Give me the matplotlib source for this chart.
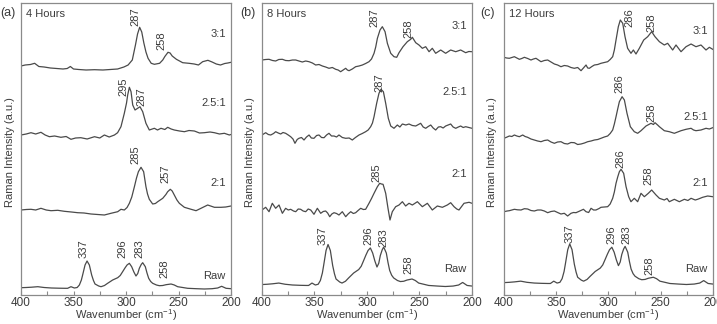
import matplotlib
matplotlib.use("Agg")
import matplotlib.pyplot as plt
from matplotlib.ticker import MultipleLocator

plt.rcParams['font.family'] = ['Liberation Sans', 'DejaVu Sans']
plt.rcParams['mathtext.default'] = 'regular'

# ---------------- data ----------------
# raw powder spectrum, same shape in all three panels
raw_wn = [400, 395, 390, 384, 378, 371, 364, 358, 355.6, 352.4, 349.2, 346.5, 344.4, 342.5, 341.3, 339,
          337.1, 334.9, 332.7, 331, 329.5, 326, 323.8, 320.5, 317.5, 312.7, 307.9, 305.5, 303.2, 301, 299,
          296.8, 294.6, 292.5, 290.5, 288.8, 287.3, 285.5, 284.1, 281.6, 280, 278.4, 276.5, 274.6, 271,
          268.2, 265, 261.9, 257.1, 254, 250.8, 246, 241.3, 233, 225.4, 218, 212.7, 208.9, 204.7, 200]
raw_int = [1.3, 1.5, 1.8, 2.3, 1.5, 1, 0.8, 0.7, 0.7, 2.3, 1, 1.5, 4, 9, 14, 24,
           28, 24, 14, 8.5, 5, 3, 2.3, 3.5, 5.7, 9, 11.3, 13.5, 17.3, 21, 24,
           25.7, 22.3, 17, 13, 15.5, 20.7, 24.5, 26.3, 22.3, 16, 10.7, 7.5, 5.7, 4,
           3.3, 3.5, 4.3, 5, 4, 2.3, 1.5, 0.7, 0.3, 0, 0.3, 1, 2.7, 0.7, 0.3]

# 4 hours
a31_wn = [400, 396, 391, 387, 383, 378, 372, 366, 360, 356, 353, 350, 345, 338, 330, 322, 315, 308, 302,
          298, 294, 291, 289, 287, 285, 283, 281, 279, 276, 273, 268, 265, 263, 260, 258, 256, 252, 246,
          240, 235, 231, 227, 222, 218, 214, 210, 206, 203, 200]
a31_int = [4, 5, 5.5, 6.7, 3.5, 3, 2, 1.5, 1, 1.5, 3.5, 1, 0.5, 0, 0.3, 0, 0.5, 1, 3,
           5, 10, 25, 36, 42.7, 38, 27, 18, 11.7, 6.7, 5.7, 6.7, 10, 13.5, 17.7, 17, 14, 10.7, 7.3,
           6.7, 6, 5, 8.3, 9.7, 8, 6, 5, 6.5, 7, 7.7]

a251_wn = [400, 395, 390.5, 386, 381, 377, 373, 368, 362, 357, 352.4, 348, 343, 337, 330, 325, 320.6, 316,
           311, 308, 304.8, 301.6, 299.5, 298.4, 296.8, 295.2, 293.6, 291.4, 288.9, 286.7, 284.1, 281,
           277.8, 273, 270, 266.7, 263, 260.3, 257, 254, 249, 244.4, 240, 234.9, 230, 225.4, 220, 215.8,
           211, 206.3, 201.6, 200]
a251_int = [5, 6, 7.3, 6, 7.7, 5, 3.3, 4, 2.7, 3.5, 0.7, 2, 2.3, 1, 3.3, 2, 5, 3,
            5, 7.3, 13.3, 26.7, 37, 45, 52.7, 48.3, 35, 30, 31.7, 33.3, 28.3, 16.7,
            10, 11.7, 10, 11.7, 10.5, 12.7, 11, 10, 9, 8.3, 9.5, 9, 7, 7.3, 8, 7.3,
            6, 6.7, 5, 5.5]

a21_wn = [400, 395, 390.5, 386, 381, 376, 371.4, 365, 358.7, 352, 346, 340, 333.3, 327, 320.6, 314.3,
          307.9, 304.8, 301.6, 299, 296.8, 294.5, 292, 290, 288.2, 285.7, 283.2, 281, 279.5, 277.8, 274.6,
          272, 269.8, 265, 262, 260.3, 257.8, 256, 254, 251.5, 249.2, 244.4, 238, 233.3, 228.6, 222.2,
          215.8, 209.5, 205, 200]
a21_int = [7, 7.5, 7.7, 7, 8.7, 7, 6.3, 6.7, 5.7, 5, 4.3, 4, 3, 2.5, 2, 3.7,
           5.3, 7.7, 7, 9.5, 13.7, 20, 30.3, 39, 45.3, 49.7, 45.3, 30.3, 23, 17.7, 13,
           13.5, 15.3, 18.7, 22.5, 25.3, 27.7, 26, 22, 17, 13.7, 9.7, 7.7, 6.3, 8.7, 12,
           9.7, 9.7, 10, 11]

# 8 hours
b31_wn = [400, 396.5, 393.3, 390, 387, 384, 380.6, 377.5, 374.3, 371, 367.9, 364.8, 361.6, 358.4, 355.2,
          352, 348.9, 345.7, 342.5, 339.4, 336.2, 333, 329.8, 327.5, 325.1, 322.7, 320.3, 318.7, 317.1,
          314, 310.8, 307.6, 304.4, 301.3, 298.1, 295.7, 293.3, 291.7, 290.1, 287.6, 285.4, 282.8,
          280.6, 277.4, 274.3, 271.7, 269.5, 265.7, 261.6, 258.4, 256.8, 253.6, 250.5, 247.3, 244.1,
          240.9, 237.8, 234.6, 229.8, 225.1, 220.3, 215.5, 210.8, 206, 203, 200]
b31_int = [12, 12.5, 12.7, 11.5, 11, 12.5, 12.7, 11.5, 11.3, 12, 12, 11, 10, 11, 10.3,
           9, 7, 7.5, 6, 5, 3.7, 4.5, 2.7, 2, 0.3, 2, 3.7, 2, 1.3,
           3, 5.3, 6, 7, 8.5, 10.3, 13, 18.7, 25, 33.7, 42, 45.3, 40.3,
           28.7, 18.7, 15.3, 14.7, 19.3, 25.3, 30.3, 32.7, 34.7, 29.3, 27, 23.7, 25.3,
           20.3, 23.7, 18.7, 22, 18.7, 22, 20.3, 22, 19.3, 20.5, 20.3]

b251_wn = [400, 396.5, 394, 391.7, 389, 387, 384.5, 382.2, 380, 377.5, 375, 372.7, 370.5, 368.6, 366.5,
           364.8, 362.4, 360, 357.6, 355.2, 353, 350.5, 348, 345.7, 343.3, 340.9, 338.5, 336.2, 333.8,
           331.4, 329, 326.7, 323.5, 320.3, 317, 314, 311, 307.6, 304.5, 301.3, 298.9, 296.5, 294.8,
           293.3, 290.8, 288.6, 286.7, 284.4, 282.2, 279.7, 277.4, 274.3, 271.1, 268.7, 266.3, 263, 260,
           256.8, 253.6, 251, 248.9, 246.5, 244.1, 241.7, 239.3, 237, 234.6, 232, 229.8, 227.5, 225.1,
           222.7, 220.3, 218, 215.5, 213, 210.8, 208.4, 206, 203, 200]
b251_int = [8, 10.3, 8.5, 8, 9.5, 11.3, 10, 9, 10.5, 9.7, 8, 6.3, 4, -0.3, 3.5,
            4.7, 5.5, 3, 6, 8, 5, 4.7, 7.5, 8, 5.5, 5.3, 8, 9.7, 7,
            7, 6, 8, 5.5, 4.7, 5, 3, 5.5, 8, 9.5, 11.3, 13, 16.3, 20,
            26.3, 39.7, 49.7, 53.7, 51.3, 39.7, 24.7, 17, 14.7, 18, 16, 19, 18, 19,
            17.5, 17, 18.5, 19.7, 16, 14.7, 16.5, 18, 15, 13, 16, 16.3, 15, 17,
            18, 19, 16, 14.7, 16, 17, 15.5, 16.3, 15.5, 14.7]

b21_wn = [400, 396.5, 393.3, 390.2, 387, 383.8, 380.6, 377.5, 375, 372.7, 370, 367.9, 365.5, 363.2, 360.8,
          358.4, 356, 353.6, 350.5, 347.3, 344.1, 341.7, 339.4, 337.5, 335.5, 333.5, 331.4, 329, 326.7,
          323.5, 320.3, 318, 315.5, 313, 310.8, 308.5, 306, 303.5, 301.3, 298.1, 295.7, 293.3, 291.7,
          290.1, 287.9, 286.3, 284.7, 282.2, 280, 278.1, 275.9, 272.7, 269.5, 266.3, 263.2, 260, 256.8,
          252, 247.3, 242.5, 237.8, 233, 228.2, 223.5, 220.3, 217.1, 214.5, 212.4, 207.6, 202.8, 200]
b21_int = [7, 9.7, 5.3, 13.7, 8.7, 12, 3.7, 8.7, 7, 7.7, 6, 5.3, 8, 7.7, 6,
           5.3, 8, 7, 2.7, 8.7, 3.7, 5.5, 6, 4, 0.3, 3, 4.3, 3.5, 2,
           5.3, 0.3, 3, 5.3, 3.5, 4.3, 6.5, 8.7, 7.5, 7.7, 13.7, 18.5, 23.7, 27,
           30.3, 33.7, 33, 32.7, 23.7, 8.7, -3, 5.3, 10.3, 12, 15.3, 11, 13.7, 12,
           15.3, 10.3, 13.7, 7, 11, 9.7, 12, 14.3, 10.3, 8, 7, 13.7, 14.7, 13.7]

# 12 hours
c31_wn = [400, 397.5, 394.9, 392.5, 390.1, 387.7, 385.3, 383, 380.5, 377.3, 374.2, 371.8, 369.4, 367,
          364.6, 361.4, 358.2, 355, 351.8, 348.7, 345.5, 342.3, 339.1, 335.9, 332.7, 329.5, 326.3, 324,
          321.5, 319.9, 318.3, 315.9, 313.5, 310.3, 307.2, 304, 300.8, 298.4, 296, 294.4, 292.8, 290.6,
          288.7, 286.4, 284.2, 281.7, 278.5, 276.2, 273.7, 270.5, 266.3, 262.5, 258.7, 255.5, 251.3,
          246.6, 243.4, 238.6, 235.4, 230.6, 225.8, 221, 216.3, 211.5, 206.7, 203.5, 200.3]
c31_int = [13.7, 13, 12.7, 13.5, 14.3, 13, 11.7, 12.5, 13.7, 12.5, 11, 12, 12.7, 11,
           9.3, 10.5, 11, 9, 7, 6, 4.3, 5.5, 5, 3.5, 2.7, 3.5, 0.3, 3,
           6, 3, 2.7, 4.5, 6, 6.5, 7.7, 8.5, 9.3, 11.5, 14.3, 21, 31, 44.3,
           51, 47.7, 34.3, 22.7, 17.7, 21, 17, 22.7, 31, 34.3, 39.3, 34.3, 29.3,
           26, 27.7, 21, 26, 19.3, 24.3, 27, 24.3, 26, 21, 23.7, 21.7]

c251_wn = [400, 397, 394.9, 392.5, 390.1, 387.7, 385.3, 382.1, 379.8, 377.4, 374.2, 371, 367.8, 364.6,
           361.4, 358.2, 355, 351.8, 348.7, 345.5, 342.3, 339.1, 335.9, 332.7, 329.5, 326.3, 323, 319.9,
           316.7, 313.5, 310.3, 307.2, 304, 300.8, 298.4, 296, 294.4, 292.8, 291.2, 289.6, 287, 284.8,
           282.3, 279.1, 275.3, 272.1, 268.9, 264.1, 259.3, 257, 255.5, 253, 251.3, 246.6, 241.8, 237,
           233.8, 230.6, 225.8, 221, 218.6, 216.3, 211.5, 206.7, 203.5, 200.3]
c251_int = [6.7, 8, 9, 8.5, 10, 9, 8.3, 10, 8.5, 7.7, 6, 5, 4, 3.3,
            4.5, 5, 3, 1.7, 3, 3.3, 1.5, 1, 2.5, 2.3, 0.5, 1, 2, 3.3,
            4, 5, 5.5, 6.7, 8, 9, 11.5, 15, 21, 28.3, 36, 43.3, 48.3, 45,
            31.7, 18.3, 13.3, 11.7, 14.3, 19, 21.7, 20.5, 22.3, 20, 18.3, 14.3, 13.3, 11.7,
            13, 14.3, 15.7, 16.7, 15, 14.3, 15, 16.7, 16, 17.3]

c21_wn = [400, 397, 394.9, 392.5, 390.1, 387, 383.7, 380.5, 377.4, 374.2, 371, 367.8, 364.6, 361.4,
          358.2, 355, 351.8, 348.7, 345.5, 342.3, 339.1, 335.9, 333.5, 331.1, 327.5, 324, 321.5, 319,
          316.7, 314.3, 312, 309, 307.2, 304, 300.8, 298.4, 296, 294.4, 292.8, 291.2, 289.6, 288, 285.5,
          283.2, 280.7, 278.5, 275.3, 272.1, 268.9, 265.7, 261.9, 258.7, 254.5, 251.3, 246.6, 244,
          241.8, 237, 232.2, 227.4, 224, 221, 217, 214.7, 209.9, 205.1, 200.3]
c21_int = [5.3, 6, 6.3, 7, 7.7, 7.2, 7, 8.3, 8, 6.5, 6, 7, 7, 6,
           4.3, 5.5, 6, 4.5, 3, 3.7, 1, 3.7, 4.5, 4.3, 6, 7.7, 5.3, 4.5,
           8.7, 7, 7, 8.5, 9.7, 10, 10.3, 13, 18.7, 25, 33.7, 40, 45.3, 47.7, 43.7,
           30.3, 20.3, 15.3, 18.7, 15.3, 23.7, 20.3, 23.7, 27, 22, 18.7, 17, 18.5,
           15.3, 17.7, 15.3, 17.7, 16.5, 18.7, 17, 17.7, 19.7, 21, 20.3]

ratio_names = ["3:1", "2.5:1", "2:1", "Raw"]
hours = ["4 Hours", "8 Hours", "12 Hours"]
panel_tags = ["(a)", "(b)", "(c)"]

# ---------------- figure ----------------
line_col = "#4a4a4a"
text_col = "#3c3c3c"
spine_col = "#8a8a8a"

fig = plt.figure(figsize=(7.17, 3.24), dpi=100)

panel_left = [21, 262, 504]
panel_width = [210, 210, 209]
axes = []
for i in range(3):
    ax = fig.add_axes([panel_left[i] / 717, 29 / 324, panel_width[i] / 717, 292 / 324])
    axes.append(ax)

# curves per panel: (wn, intensity, vertical offset, scale)
curves = [
    [(a31_wn, a31_int, 225, 1), (a251_wn, a251_int, 155, 1), (a21_wn, a21_int, 78, 1),
     (raw_wn, raw_int, 6, 1)],
    [(b31_wn, b31_int, 223, 1), (b251_wn, b251_int, 152, 1), (b21_wn, b21_int, 78, 1),
     (raw_wn, raw_int, 8.5, 1.5)],
    [(c31_wn, c31_int, 224, 1), (c251_wn, c251_int, 150, 1), (c21_wn, c21_int, 78, 1),
     (raw_wn, raw_int, 10.5, 1.45)],
]

# peak labels: text, x (wavenumber), bottom of text
peak_labels = [
    [("287", 291, 268.5), ("258", 266.7, 245), ("295", 302, 198.5), ("287", 285.7, 189),
     ("285", 291, 131), ("257", 262.6, 111.7), ("337", 340.3, 36.7), ("296", 303.8, 36.7),
     ("283", 287.6, 36.7), ("258", 263.2, 16.7)],
    [("287", 292.7, 268.3), ("258", 260.7, 256.7), ("287", 288, 203.3), ("285", 291.2, 113.3),
     ("337", 341.9, 50), ("296", 299, 50), ("283", 284.8, 48.3), ("258", 261, 21)],
    [("286", 280, 268.3), ("258", 258.7, 263.3), ("286", 289.6, 201.7), ("258", 258.7, 173.3),
     ("286", 288.7, 126.7), ("258", 262.2, 110), ("337", 336.8, 51.7), ("296", 297.3, 51),
     ("283", 283.3, 51), ("258", 261.2, 20)],
]

ratio_y = [[261, 192.3, 111.7, 19.3], [269, 203, 121, 26], [264, 178, 112.5, 26.5]]
ylabel_x = [10, 250, 492]
tag_x = [0, 240, 480]

for i, ax in enumerate(axes):
    for wn, inten, off, sc in curves[i]:
        ax.plot(wn, [off + v * sc for v in inten], color=line_col, lw=0.9)

    for txt, x, y in peak_labels[i]:
        ax.text(x, y, txt, rotation=90, ha="center", va="bottom", fontsize=8, color=text_col)

    for name, y in zip(ratio_names, ratio_y[i]):
        ax.text(205, y, name, ha="right", va="center", fontsize=8, color=text_col)

    ax.text(0.025, 0.962, hours[i], transform=ax.transAxes, ha="left", va="center",
            fontsize=8, color=text_col)

    ax.set_xlim(400, 200)
    ax.set_ylim(0, 292)
    ax.set_yticks([])
    ax.xaxis.set_major_locator(MultipleLocator(50))
    ax.xaxis.set_minor_locator(MultipleLocator(25))
    ax.tick_params(axis="x", which="both", direction="in", length=3, width=0.8,
                   color=spine_col, labelsize=8.5, labelcolor=text_col, pad=1.5)
    for s in ax.spines.values():
        s.set_color(spine_col)
        s.set_linewidth(0.9)

    # x label placed directly under the tick labels
    fig.text((panel_left[i] + panel_width[i] / 2) / 717, 1 - 315.5 / 324, "Wavenumber (cm$^{-1}$)",
             ha="center", va="center", fontsize=8, color=text_col)
    fig.text(ylabel_x[i] / 717, 1 - 152 / 324, "Raman Intensity (a.u.)", rotation=90,
             ha="center", va="center", fontsize=8, color=text_col)
    fig.text(tag_x[i] / 717, 1 - 13 / 324, panel_tags[i], ha="left", va="center",
             fontsize=9, color=text_col)

fig.savefig("out.png", dpi=100)
